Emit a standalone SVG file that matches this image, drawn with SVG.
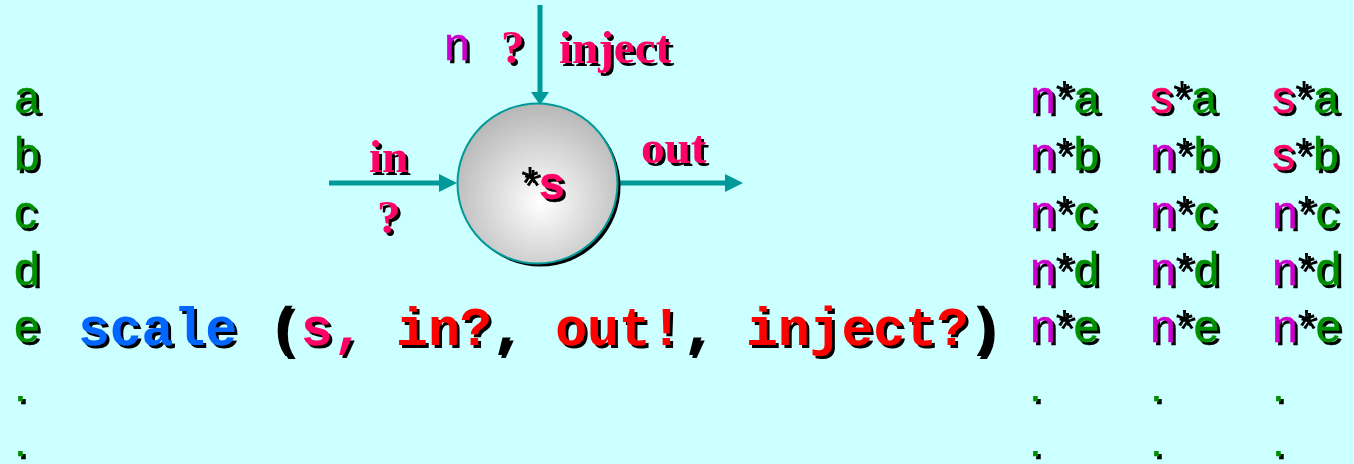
<svg xmlns="http://www.w3.org/2000/svg" width="1354" height="464" viewBox="0 0 1354 464">
<defs>
<filter id="sh" x="-10%" y="-10%" width="130%" height="140%">
<feOffset in="SourceAlpha" dx="2.5" dy="2.5" result="o"/>
<feFlood flood-color="#000"/>
<feComposite in2="o" operator="in" result="s"/>
<feMerge><feMergeNode in="s"/><feMergeNode in="SourceGraphic"/></feMerge>
</filter>
<radialGradient id="g" cx="0.52" cy="0.6" r="0.62" fx="0.52" fy="0.62">
<stop offset="0" stop-color="#ffffff"/>
<stop offset="1" stop-color="#b4b4b4"/>
</radialGradient>
<marker id="ah" markerUnits="userSpaceOnUse" markerWidth="18" markerHeight="18" refX="0" refY="9" orient="auto">
<path d="M0,0 L18,9 L0,18 z" fill="#009999"/>
</marker>
<marker id="ahv" markerUnits="userSpaceOnUse" markerWidth="13" markerHeight="18" refX="0" refY="9" orient="auto">
<path d="M0,0 L13,9 L0,18 z" fill="#009999"/>
</marker>
</defs>
<style>
.sans{font-family:"Liberation Sans",Arial,sans-serif;font-size:46px;stroke-width:0.3}
.serif{font-family:"Liberation Serif","Times New Roman",serif;font-weight:bold;font-size:47px;fill:#ff0066}
.mono{font-family:"Liberation Mono","Courier New",monospace;font-weight:bold;font-size:53px}
.g{fill:#008f00;stroke:#008f00}
.m{fill:#cc00cc;stroke:#cc00cc}
.p{fill:#ff0066}
.sans .p{stroke:#ff0066}
.k{fill:#000}
.r{fill:#ff0000}
.b{fill:#0066ff}
.conn line{stroke:#009999;stroke-width:5;marker-end:url(#ah)}
.conn line.v{marker-end:url(#ahv)}
</style>
<rect width="1354" height="464" fill="#ccffff"/>

<g id="connectors" class="conn">
<line class="v" x1="540" y1="5" x2="540" y2="92"/>
<line x1="329" y1="183" x2="439" y2="183"/>
<line x1="618" y1="183" x2="725" y2="183"/>
</g>

<g id="node-s">
<circle cx="537.5" cy="183.5" r="80" fill="#000" transform="translate(3,3)"/>
<circle cx="537.5" cy="183.5" r="80" fill="url(#g)" stroke="#009999" stroke-width="2"/>
<text x="521" y="199" class="sans" filter="url(#sh)"><tspan class="k">*</tspan><tspan class="p" font-weight="bold">s</tspan></text>
</g>

<g id="labels" filter="url(#sh)">
<text x="444" y="60" class="sans m">n</text>
<text x="501" y="63" class="serif">?</text>
<text x="559" y="63" class="serif">inject</text>
<text x="369" y="172" class="serif">in</text>
<text x="377" y="233" class="serif">?</text>
<text x="641" y="163" class="serif">out</text>
</g>

<g id="left-column" class="sans g" filter="url(#sh)">
<text x="14" y="113">a</text>
<text x="14" y="170">b</text>
<text x="14" y="228">c</text>
<text x="14" y="285">d</text>
<text x="14" y="342">e</text>
<text x="14" y="401">.</text>
<text x="14" y="456">.</text>
</g>

<g id="code" filter="url(#sh)">
<text x="78" y="345" class="mono"><tspan class="b">scale</tspan><tspan class="k"> (</tspan><tspan class="p">s,</tspan><tspan class="k"> </tspan><tspan class="r">in?</tspan><tspan class="k">, </tspan><tspan class="r">out!</tspan><tspan class="k">, </tspan><tspan class="r">inject?</tspan><tspan class="k">)</tspan></text>
</g>

<g id="col1" class="sans" filter="url(#sh)">
<text x="1030" y="113"><tspan class="m">n</tspan><tspan class="k">*</tspan><tspan class="g">a</tspan></text>
<text x="1030" y="170"><tspan class="m">n</tspan><tspan class="k">*</tspan><tspan class="g">b</tspan></text>
<text x="1030" y="228"><tspan class="m">n</tspan><tspan class="k">*</tspan><tspan class="g">c</tspan></text>
<text x="1030" y="285"><tspan class="m">n</tspan><tspan class="k">*</tspan><tspan class="g">d</tspan></text>
<text x="1030" y="342"><tspan class="m">n</tspan><tspan class="k">*</tspan><tspan class="g">e</tspan></text>
<text x="1029" y="401" class="g">.</text>
<text x="1029" y="456" class="g">.</text>
</g>

<g id="col2" class="sans" filter="url(#sh)">
<text x="1150" y="113"><tspan class="p">s</tspan><tspan class="k">*</tspan><tspan class="g">a</tspan></text>
<text x="1150" y="170"><tspan class="m">n</tspan><tspan class="k">*</tspan><tspan class="g">b</tspan></text>
<text x="1150" y="228"><tspan class="m">n</tspan><tspan class="k">*</tspan><tspan class="g">c</tspan></text>
<text x="1150" y="285"><tspan class="m">n</tspan><tspan class="k">*</tspan><tspan class="g">d</tspan></text>
<text x="1150" y="342"><tspan class="m">n</tspan><tspan class="k">*</tspan><tspan class="g">e</tspan></text>
<text x="1150" y="401" class="g">.</text>
<text x="1150" y="456" class="g">.</text>
</g>

<g id="col3" class="sans" filter="url(#sh)">
<text x="1272" y="113"><tspan class="p">s</tspan><tspan class="k">*</tspan><tspan class="g">a</tspan></text>
<text x="1272" y="170"><tspan class="p">s</tspan><tspan class="k">*</tspan><tspan class="g">b</tspan></text>
<text x="1272" y="228"><tspan class="m">n</tspan><tspan class="k">*</tspan><tspan class="g">c</tspan></text>
<text x="1272" y="285"><tspan class="m">n</tspan><tspan class="k">*</tspan><tspan class="g">d</tspan></text>
<text x="1272" y="342"><tspan class="m">n</tspan><tspan class="k">*</tspan><tspan class="g">e</tspan></text>
<text x="1272" y="401" class="g">.</text>
<text x="1272" y="456" class="g">.</text>
</g>
</svg>
